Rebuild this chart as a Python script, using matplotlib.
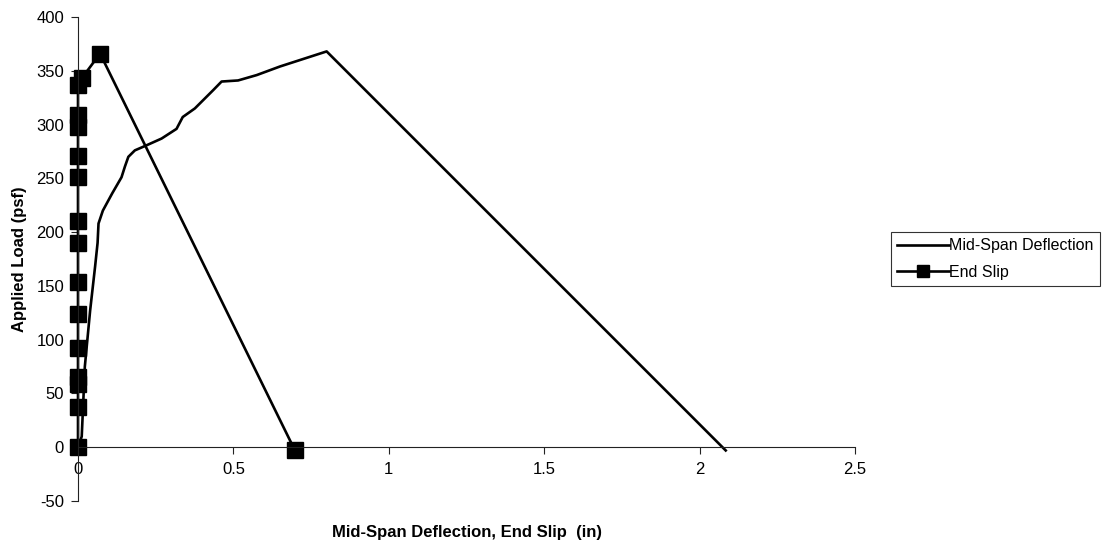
import matplotlib
matplotlib.use('Agg')
from matplotlib import pyplot as plt

plt.rcParams['font.family'] = ['Liberation Sans', 'DejaVu Sans']
plt.rcParams['axes.unicode_minus'] = False

# Mid-span deflection (in) vs applied load (psf)
mid_x = [0, 0.012, 0.022, 0.039, 0.055, 0.063, 0.066, 0.08, 0.11, 0.14, 0.151, 0.162,
         0.183, 0.215, 0.269, 0.317, 0.337, 0.376, 0.435, 0.462, 0.515, 0.575, 0.65,
         0.80, 2.084]
mid_y = [0, 10, 75, 127, 168, 190, 208, 220, 236, 251, 261, 270,
         276, 280, 287, 296, 307, 315, 332, 340, 341, 346, 354,
         368, -3]

# End slip (in) vs applied load (psf)
slip_x = [0, 0, 0, 0, 0, 0, 0, 0, 0, 0, 0, 0, 0, 0, 0.012, 0.071, 0.698]
slip_y = [0, 37, 59, 65, 92, 124, 154, 190, 210, 251, 271, 298, 309, 337, 343, 366, -3]

fig = plt.figure(figsize=(11.03, 5.5), dpi=100)
ax = fig.add_axes([78 / 1103, 1 - 501 / 550, 777 / 1103, 484 / 550])

ax.plot(mid_x, mid_y, color='black', lw=1.9, label='Mid-Span Deflection', clip_on=False)
ax.plot(slip_x, slip_y, color='black', lw=1.9, marker='s', ms=12,
        label='End Slip', clip_on=False)

ax.set_xlim(0, 2.5)
ax.set_ylim(-50, 400)
ax.set_xticks([0, 0.5, 1, 1.5, 2, 2.5])
ax.set_xticklabels(['0', '0.5', '1', '1.5', '2', '2.5'])
ax.set_yticks(range(-50, 401, 50))

ax.spines['top'].set_visible(False)
ax.spines['right'].set_visible(False)
ax.spines['bottom'].set_position(('data', 0))
for s in ('left', 'bottom'):
    ax.spines[s].set_linewidth(0.8)
    ax.spines[s].set_color('#222222')
ax.tick_params(axis='both', direction='out', length=5, width=0.8, color='#222222',
               labelsize=12)
ax.tick_params(axis='x', pad=6)
ax.tick_params(axis='y', pad=5)

ax.set_xlabel('Mid-Span Deflection, End Slip  (in)', fontsize=12, fontweight='bold')
ax.xaxis.set_label_coords(0.5, -0.05)
ax.set_ylabel('Applied Load (psf)', fontsize=12, fontweight='bold')
ax.yaxis.set_label_coords(-0.066, 0.5)

leg = fig.legend(loc='upper left', bbox_to_anchor=(891 / 1103, 1 - 232 / 550),
                 borderaxespad=0, fontsize=11.5, frameon=True, fancybox=False,
                 handlelength=3.2, markerscale=0.7, borderpad=0.4,
                 labelspacing=0.7, handletextpad=0.05)
leg.get_frame().set_edgecolor('black')
leg.get_frame().set_linewidth(0.8)

fig.savefig('out.png', dpi=100)
